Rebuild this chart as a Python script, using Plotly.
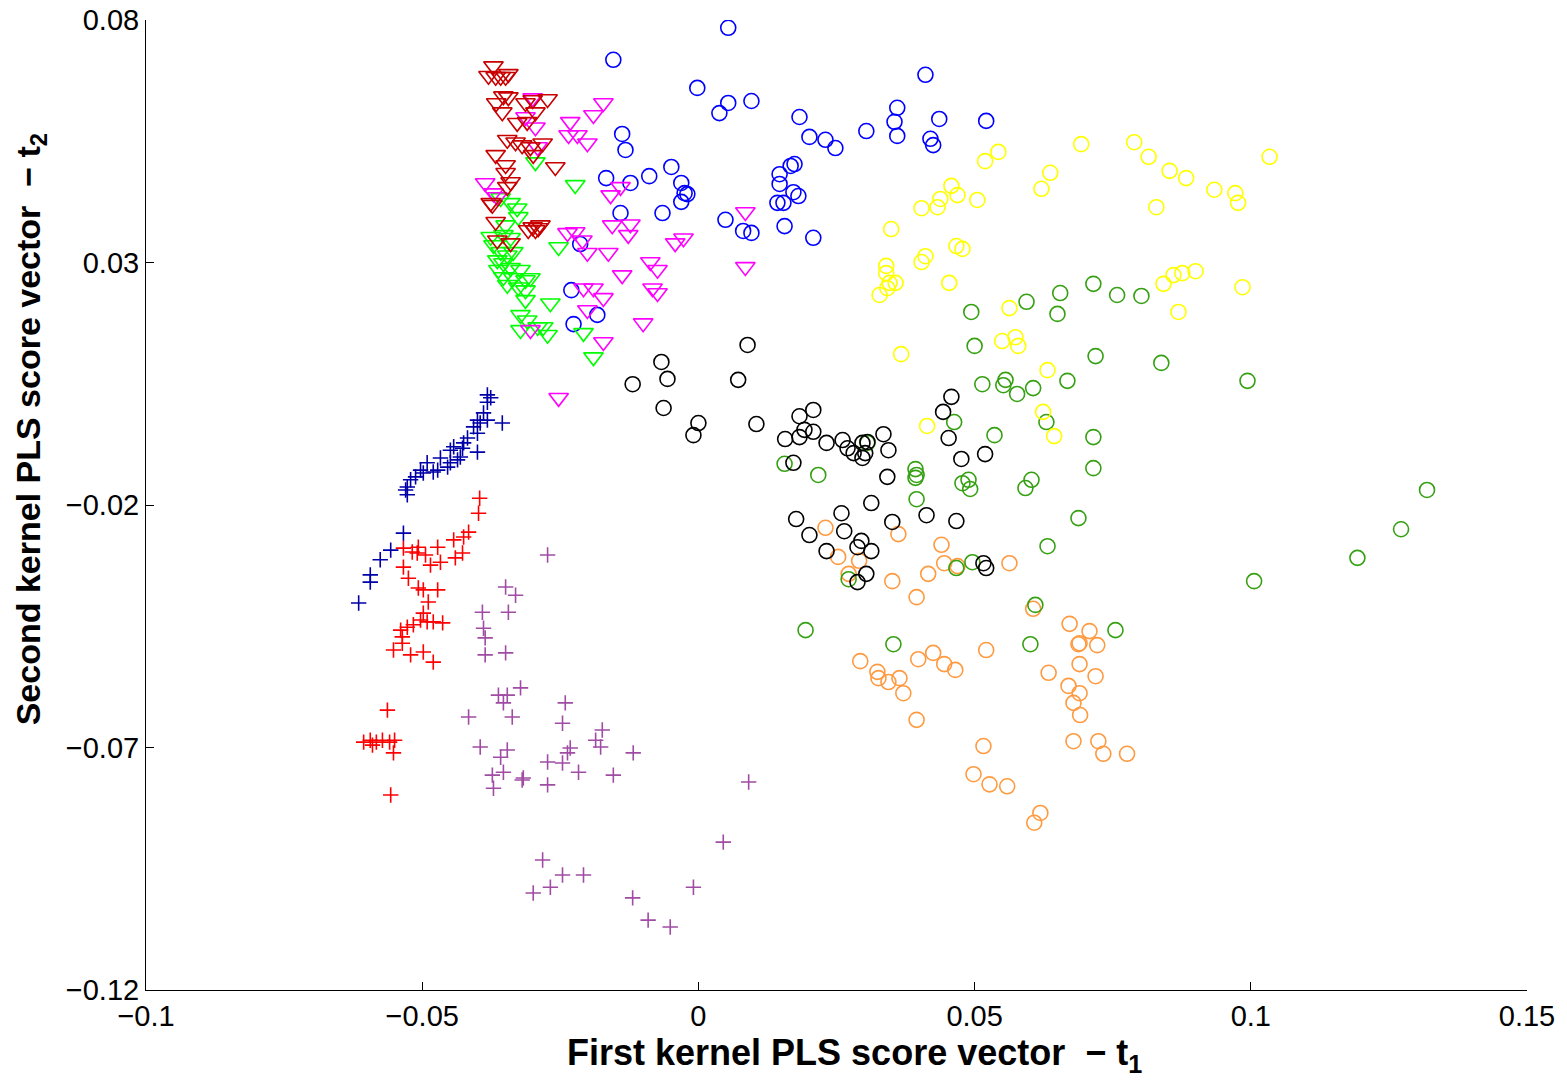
import plotly.graph_objects as go

# ---------------- data ----------------
blue_circ_x = [-0.0154,0.0054,-0.0002,0.0054,0.0038,0.0096,0.0183,0.0201,0.0230,0.0248,0.0304,0.0360,0.0355,0.0360,0.0411,0.0436,0.0420,0.0425,0.0521,-0.0138,-0.0132,-0.0167,-0.0123,-0.0089,-0.0049,-0.0031,-0.0025,-0.0020,-0.0031,-0.0065,-0.0141,0.0049,0.0081,0.0096,0.0156,0.0208,0.0147,0.0167,0.0174,0.0147,0.0172,0.0181,0.0143,0.0154,-0.0214,-0.0230,-0.0183,-0.0226]
blue_circ_y = [0.0718,0.0784,0.0660,0.0629,0.0608,0.0633,0.0600,0.0559,0.0553,0.0536,0.0571,0.0619,0.0590,0.0561,0.0687,0.0596,0.0555,0.0542,0.0592,0.0565,0.0532,0.0474,0.0464,0.0478,0.0497,0.0464,0.0443,0.0441,0.0425,0.0402,0.0402,0.0388,0.0365,0.0361,0.0375,0.0351,0.0482,0.0499,0.0503,0.0462,0.0445,0.0437,0.0423,0.0423,0.0338,0.0243,0.0192,0.0173]

darkred_tri_x = [-0.0371,-0.0380,-0.0367,-0.0358,-0.0349,-0.0344,-0.0353,-0.0344,-0.0366,-0.0355,-0.0313,-0.0300,-0.0273,-0.0295,-0.0328,-0.0310,-0.0346,-0.0331,-0.0319,-0.0304,-0.0282,-0.0367,-0.0349,-0.0299,-0.0259,-0.0349,-0.0340,-0.0346,-0.0376,-0.0373,-0.0367,-0.0300,-0.0295,-0.0290,-0.0308,-0.0286,-0.0340,-0.0364]
darkred_tri_y = [0.0705,0.0685,0.0683,0.0683,0.0683,0.0689,0.0643,0.0641,0.0629,0.0610,0.0629,0.0635,0.0637,0.0610,0.0588,0.0590,0.0553,0.0548,0.0542,0.0538,0.0546,0.0522,0.0501,0.0522,0.0497,0.0485,0.0466,0.0456,0.0423,0.0419,0.0384,0.0373,0.0367,0.0371,0.0367,0.0377,0.0340,0.0346]

magenta_tri_x = [-0.0300,-0.0313,-0.0295,-0.0291,-0.0232,-0.0235,-0.0219,-0.0201,-0.0190,-0.0172,-0.0386,-0.0371,-0.0159,-0.0141,-0.0156,-0.0123,-0.0127,-0.0237,-0.0223,-0.0210,-0.0201,-0.0163,-0.0087,-0.0074,-0.0138,-0.0208,-0.0190,-0.0172,-0.0083,-0.0074,-0.0201,-0.0172,-0.0100,-0.0253,-0.0304,-0.0042,-0.0027,0.0085,0.0085,-0.0364]
magenta_tri_y = [0.0639,0.0600,0.0579,0.0538,0.0590,0.0563,0.0563,0.0546,0.0604,0.0629,0.0464,0.0443,0.0439,0.0456,0.0377,0.0379,0.0357,0.0361,0.0363,0.0346,0.0320,0.0320,0.0301,0.0285,0.0274,0.0247,0.0247,0.0227,0.0247,0.0237,0.0202,0.0136,0.0175,0.0021,0.0161,0.0340,0.0350,0.0404,0.0291,0.0435]

green_tri_x = [-0.0295,-0.0223,-0.0358,-0.0340,-0.0326,-0.0376,-0.0353,-0.0340,-0.0371,-0.0358,-0.0346,-0.0335,-0.0364,-0.0353,-0.0362,-0.0340,-0.0322,-0.0353,-0.0335,-0.0313,-0.0304,-0.0346,-0.0326,-0.0313,-0.0313,-0.0253,-0.0268,-0.0322,-0.0310,-0.0322,-0.0291,-0.0281,-0.0273,-0.0208,-0.0190,-0.0328,-0.0349]
green_tri_y = [0.0507,0.0460,0.0433,0.0423,0.0394,0.0353,0.0357,0.0351,0.0336,0.0322,0.0315,0.0322,0.0305,0.0299,0.0285,0.0289,0.0285,0.0270,0.0268,0.0264,0.0268,0.0254,0.0249,0.0243,0.0223,0.0332,0.0216,0.0192,0.0181,0.0161,0.0167,0.0167,0.0151,0.0155,0.0105,0.0412,0.0377]

navy_plus_x = [-0.0382,-0.0376,-0.0382,-0.0355,-0.0395,-0.0400,-0.0407,-0.0400,-0.0418,-0.0425,-0.0400,-0.0431,-0.0443,-0.0449,-0.0436,-0.0449,-0.0454,-0.0472,-0.0480,-0.0491,-0.0498,-0.0512,-0.0521,-0.0527,-0.0530,-0.0527,-0.0534,-0.0557,-0.0576,-0.0594,-0.0594,-0.0615,-0.0389,-0.0382,-0.0427,-0.0467,-0.0503]
navy_plus_y = [0.0027,0.0021,0.0012,-0.0031,-0.0031,-0.0025,-0.0039,-0.0052,-0.0062,-0.0072,-0.0091,-0.0101,-0.0080,-0.0087,-0.0107,-0.0113,-0.0122,-0.0128,-0.0132,-0.0113,-0.0134,-0.0142,-0.0148,-0.0163,-0.0169,-0.0179,-0.0258,-0.0293,-0.0313,-0.0344,-0.0359,-0.0402,-0.0010,-0.0025,-0.0083,-0.0103,-0.0128]

red_plus_x = [-0.0396,-0.0398,-0.0416,-0.0425,-0.0443,-0.0427,-0.0440,-0.0472,-0.0507,-0.0518,-0.0509,-0.0494,-0.0534,-0.0485,-0.0467,-0.0534,-0.0525,-0.0507,-0.0498,-0.0472,-0.0489,-0.0498,-0.0503,-0.0491,-0.0480,-0.0463,-0.0516,-0.0527,-0.0539,-0.0536,-0.0536,-0.0552,-0.0521,-0.0498,-0.0480,-0.0563,-0.0606,-0.0594,-0.0583,-0.0572,-0.0559,-0.0550,-0.0552,-0.0557,-0.0590]
red_plus_y = [-0.0186,-0.0217,-0.0256,-0.0266,-0.0272,-0.0299,-0.0309,-0.0287,-0.0287,-0.0297,-0.0299,-0.0303,-0.0289,-0.0324,-0.0318,-0.0328,-0.0351,-0.0371,-0.0375,-0.0375,-0.0400,-0.0423,-0.0437,-0.0441,-0.0441,-0.0443,-0.0447,-0.0452,-0.0458,-0.0472,-0.0485,-0.0499,-0.0509,-0.0503,-0.0524,-0.0623,-0.0689,-0.0685,-0.0689,-0.0685,-0.0689,-0.0685,-0.0711,-0.0798,-0.0695]

purple_plus_x = [-0.0273,-0.0349,-0.0331,-0.0391,-0.0344,-0.0389,-0.0386,-0.0386,-0.0349,-0.0322,-0.0362,-0.0346,-0.0353,-0.0416,-0.0337,-0.0241,-0.0246,-0.0174,-0.0186,-0.0177,-0.0232,-0.0237,-0.0118,-0.0395,-0.0346,-0.0358,-0.0273,-0.0246,-0.0217,-0.0154,-0.0373,-0.0353,-0.0317,-0.0319,-0.0273,-0.0371,0.0091,0.0045,-0.0009,-0.0119,-0.0091,-0.0051,-0.0282,-0.0246,-0.0208,-0.0268,-0.0299]
purple_plus_y = [-0.0303,-0.0369,-0.0386,-0.0421,-0.0421,-0.0454,-0.0474,-0.0509,-0.0505,-0.0577,-0.0592,-0.0592,-0.0608,-0.0637,-0.0637,-0.0608,-0.0650,-0.0664,-0.0685,-0.0699,-0.0701,-0.0711,-0.0711,-0.0699,-0.0705,-0.0720,-0.0730,-0.0732,-0.0751,-0.0757,-0.0757,-0.0751,-0.0763,-0.0767,-0.0777,-0.0784,-0.0771,-0.0895,-0.0988,-0.1010,-0.1056,-0.1070,-0.0932,-0.0963,-0.0963,-0.0988,-0.1000]

black_circ_x = [0.0089,-0.0067,-0.0056,-0.0119,0.0072,-0.0063,0.0000,-0.0009,0.0105,0.0183,0.0208,0.0192,0.0208,0.0157,0.0183,0.0232,0.0261,0.0270,0.0281,0.0297,0.0306,0.0302,0.0297,0.0335,0.0344,0.0172,0.0342,0.0458,0.0443,0.0453,0.0476,0.0519,0.0313,0.0413,0.0467,0.0351,0.0259,0.0177,0.0201,0.0264,0.0295,0.0288,0.0313,0.0232,0.0304,0.0288,0.0516,0.0521]
black_circ_y = [0.0130,0.0095,0.0060,0.0049,0.0058,0.0000,-0.0031,-0.0056,-0.0033,-0.0017,-0.0004,-0.0045,-0.0049,-0.0064,-0.0060,-0.0072,-0.0066,-0.0083,-0.0093,-0.0072,-0.0070,-0.0093,-0.0103,-0.0054,-0.0087,-0.0113,-0.0142,0.0023,-0.0008,-0.0062,-0.0105,-0.0095,-0.0196,-0.0221,-0.0233,-0.0235,-0.0217,-0.0229,-0.0262,-0.0254,-0.0274,-0.0287,-0.0295,-0.0295,-0.0342,-0.0359,-0.0320,-0.0330]

yellow_circ_x = [0.0693,0.0789,0.0815,0.0853,0.0883,0.0934,0.0972,0.0977,0.1034,0.0829,0.0543,0.0519,0.0637,0.0621,0.0458,0.0469,0.0438,0.0433,0.0404,0.0505,0.0349,0.0467,0.0478,0.0411,0.0404,0.0340,0.0340,0.0346,0.0357,0.0342,0.0328,0.0454,0.0563,0.0550,0.0574,0.0579,0.0367,0.0632,0.0842,0.0860,0.0876,0.0900,0.0985,0.0869,0.0624,0.0644,0.0414]
yellow_circ_y = [0.0544,0.0548,0.0518,0.0489,0.0474,0.0450,0.0443,0.0423,0.0518,0.0414,0.0528,0.0509,0.0485,0.0452,0.0458,0.0439,0.0431,0.0414,0.0412,0.0429,0.0369,0.0334,0.0328,0.0313,0.0301,0.0293,0.0278,0.0258,0.0258,0.0247,0.0233,0.0258,0.0206,0.0138,0.0146,0.0128,0.0111,0.0078,0.0256,0.0274,0.0278,0.0282,0.0249,0.0198,-0.0008,-0.0058,-0.0037]

green_circ_x = [0.0715,0.0655,0.0594,0.0650,0.0494,0.0500,0.0719,0.0514,0.0556,0.0552,0.0577,0.0606,0.0668,0.0463,0.0630,0.0536,0.0715,0.0715,0.0393,0.0395,0.0393,0.0478,0.0489,0.0492,0.0603,0.0592,0.0395,0.0688,0.0632,0.0306,0.0156,0.0217,0.0496,0.0467,0.0272,0.0610,0.0194,0.0353,0.0601,0.0755,0.0758,0.0802,0.0838,0.0994,0.1319,0.1272,0.1193,0.1006]
green_circ_y = [0.0256,0.0237,0.0219,0.0194,0.0198,0.0128,0.0107,0.0049,0.0058,0.0047,0.0029,0.0041,0.0056,-0.0029,-0.0029,-0.0056,-0.0060,-0.0124,-0.0126,-0.0138,-0.0144,-0.0155,-0.0148,-0.0167,-0.0148,-0.0165,-0.0188,-0.0227,-0.0285,-0.0072,-0.0115,-0.0138,-0.0318,-0.0330,-0.0353,-0.0406,-0.0458,-0.0487,-0.0487,-0.0458,0.0233,0.0231,0.0093,0.0056,-0.0169,-0.0250,-0.0309,-0.0357]

orange_circ_x = [0.0230,0.0362,0.0253,0.0291,0.0272,0.0440,0.0445,0.0469,0.0416,0.0351,0.0395,0.0563,0.0606,0.0672,0.0708,0.0690,0.0688,0.0722,0.0690,0.0719,0.0634,0.0670,0.0690,0.0679,0.0691,0.0521,0.0425,0.0445,0.0465,0.0398,0.0293,0.0324,0.0326,0.0344,0.0364,0.0371,0.0395,0.0516,0.0498,0.0527,0.0559,0.0619,0.0608,0.0679,0.0724,0.0733,0.0776]
orange_circ_y = [-0.0247,-0.0260,-0.0307,-0.0315,-0.0342,-0.0282,-0.0320,-0.0326,-0.0342,-0.0357,-0.0390,-0.0320,-0.0414,-0.0445,-0.0460,-0.0485,-0.0487,-0.0489,-0.0528,-0.0553,-0.0546,-0.0573,-0.0588,-0.0608,-0.0633,-0.0499,-0.0505,-0.0528,-0.0540,-0.0518,-0.0522,-0.0544,-0.0557,-0.0565,-0.0557,-0.0588,-0.0643,-0.0697,-0.0755,-0.0776,-0.0780,-0.0835,-0.0855,-0.0687,-0.0687,-0.0713,-0.0713]

x_tickvals = [-0.1, -0.05, 0, 0.05, 0.1, 0.15]
x_ticktext = ["\u22120.1", "\u22120.05", "0", "0.05", "0.1", "0.15"]
y_tickvals = [-0.12, -0.07, -0.02, 0.03, 0.08]
y_ticktext = ["\u22120.12", "\u22120.07", "\u22120.02", "0.03", "0.08"]

x_title = "<b>First kernel PLS score vector\u00a0\u00a0\u2212 t<sub>1</sub></b>"
y_title = "<b>Second kernel PLS score vector\u00a0\u00a0\u2212 t<sub>2</sub></b>"

# ---------------- styles ----------------
groups = [
    (orange_circ_x, orange_circ_y, "circle-open", "#FF9A40", 15),
    (green_circ_x, green_circ_y, "circle-open", "#35A012", 15),
    (yellow_circ_x, yellow_circ_y, "circle-open", "#FFFF00", 15),
    (black_circ_x, black_circ_y, "circle-open", "#000000", 15),
    (blue_circ_x, blue_circ_y, "circle-open", "#0000FF", 15),
    (purple_plus_x, purple_plus_y, "cross-thin-open", "#A04CA4", 11),
    (red_plus_x, red_plus_y, "cross-thin-open", "#FF0000", 11),
    (navy_plus_x, navy_plus_y, "cross-thin-open", "#0000A8", 11),
    (green_tri_x, green_tri_y, "triangle-down-open", "#00FF00", 17),
    (magenta_tri_x, magenta_tri_y, "triangle-down-open", "#FF00FF", 17),
    (darkred_tri_x, darkred_tri_y, "triangle-down-open", "#C80000", 17),
]

fig = go.Figure()
for gx, gy, sym, col, sz in groups:
    fig.add_trace(go.Scatter(
        x=gx, y=gy, mode="markers",
        marker=dict(symbol=sym, size=sz, color=col, line=dict(width=1.6, color=col)),
        hoverinfo="skip", showlegend=False,
    ))

FONT = "Liberation Sans, Arial, sans-serif"
axis_common = dict(
    showline=True, linecolor="black", linewidth=1,
    ticks="inside", ticklen=8, tickcolor="black", tickwidth=1,
    showgrid=False, zeroline=False, mirror=False, automargin=False,
    tickfont=dict(family=FONT, size=29, color="black"),
)

fig.update_layout(
    template="none",
    width=1567, height=1080,
    margin=dict(l=146, r=40, t=20, b=90, pad=0),
    paper_bgcolor="white", plot_bgcolor="white",
    xaxis=dict(range=[-0.1, 0.15], tickvals=x_tickvals, ticktext=x_ticktext, **axis_common),
    yaxis=dict(range=[-0.12, 0.08], tickvals=y_tickvals, ticktext=y_ticktext, **axis_common),
    annotations=[
        dict(text=x_title,
             xref="paper", yref="paper", x=0.513, y=-0.067,
             xanchor="center", yanchor="middle", showarrow=False,
             font=dict(family=FONT, size=36, color="black")),
        dict(text=y_title,
             xref="paper", yref="paper", x=-0.084, y=0.578, textangle=-90,
             xanchor="center", yanchor="middle", showarrow=False,
             font=dict(family=FONT, size=34, color="black")),
    ],
)

fig.write_html("out.html")
